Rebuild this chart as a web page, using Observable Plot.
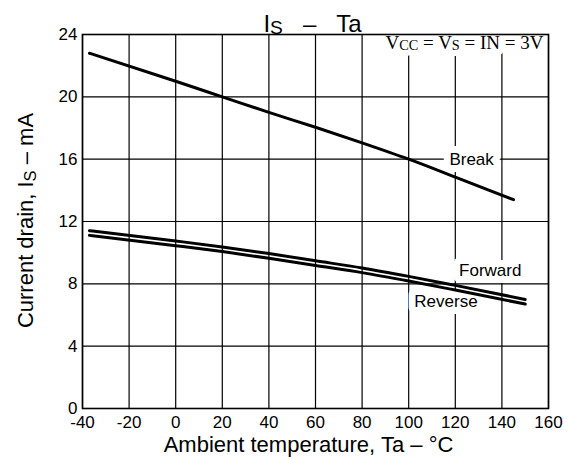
<!DOCTYPE html>
<html>
<head>
<meta charset="utf-8">
<script src="https://cdn.jsdelivr.net/npm/d3@7"></script>
<script src="https://cdn.jsdelivr.net/npm/@observablehq/plot@0.6"></script>
<style>
  html, body { margin: 0; padding: 0; background: #fff; }
</style>
</head>
<body>
<div id="chart"></div>
<script>
// ---- data ----
const pairTemps   = [-37, 0, 20, 40, 60, 80, 100, 120, 150];
const forwardMA   = [11.41, 10.75, 10.37, 9.94, 9.48, 9.02, 8.48, 7.90, 7.00];
const reverseMA   = [11.11, 10.45, 10.07, 9.64, 9.18, 8.72, 8.18, 7.60, 6.70];
const breakTemps  = [-37, 0, 20, 40, 60, 80, 100, 120, 145];
const breakMA     = [22.8, 21.0, 20.0, 19.0, 18.05, 17.05, 16.0, 14.85, 13.4];

const xTicks = [-40, -20, 0, 20, 40, 60, 80, 100, 120, 140, 160];
const yTicks = [0, 4, 8, 12, 16, 20, 24];

const curveNames  = ["Break", "Forward", "Reverse"];
const curveLabelX = [127, 135, 116];
const curveLabelY = [16.0, 8.86, 6.87];

const NB = "\u00a0";
const titleParts  = [["I", 0], ["S", 1], [NB + NB + NB + "–" + NB + NB + NB + "Ta", 0]];
const yLabelParts = [["Current drain, I", 0], ["S", 1], [" – mA", 0]];
const xLabelText  = "Ambient temperature, Ta – °C";
const condParts   = [["V", 0], ["CC", 1], [" = V", 0], ["S", 1], [" = IN = 3V", 0]];

// ---- build tables ----
const series = [];
pairTemps.forEach((t, i) => series.push({ curve: "Forward", t, ma: forwardMA[i] }));
pairTemps.forEach((t, i) => series.push({ curve: "Reverse", t, ma: reverseMA[i] }));
breakTemps.forEach((t, i) => series.push({ curve: "Break", t, ma: breakMA[i] }));
const labels = curveNames.map((name, i) => ({ name, x: curveLabelX[i], y: curveLabelY[i] }));
const join = parts => parts.map(p => p[0]).join("");

const SANS = "'Liberation Sans', Arial, Helvetica, sans-serif";
const SERIF = "'Liberation Serif', 'Times New Roman', serif";

const condOpts = {
  frameAnchor: "top-right", textAnchor: "end", lineAnchor: "bottom", dx: -5, dy: 14,
  fontFamily: SERIF, fontSize: 19
};

const chart = Plot.plot({
  width: 569,
  height: 459,
  marginLeft: 82,
  marginRight: 21,
  marginTop: 34,
  marginBottom: 51,
  style: { fontFamily: SANS, fontSize: "17px", color: "#000", background: "#fff", overflow: "visible" },
  x: { domain: [-40, 160], ticks: xTicks },
  y: { domain: [0, 24], ticks: yTicks },
  marks: [
    Plot.gridX(xTicks, { stroke: "#000", strokeOpacity: 1, strokeWidth: 1.2 }),
    Plot.gridY(yTicks, { stroke: "#000", strokeOpacity: 1, strokeWidth: 1.2 }),
    Plot.axisX(xTicks, { tickSize: 0, tickPadding: 7, label: null, tickFormat: d => String(d), fontSize: 17 }),
    Plot.axisY(yTicks, { tickSize: 0, tickPadding: 5, label: null, tickFormat: d => String(d), fontSize: 17 }),
    // curve labels with white halo that interrupts the grid
    Plot.text(labels, {
      x: "x", y: "y", text: "name", fontSize: 17, fill: "#000",
      stroke: "#fff", strokeWidth: 14, strokeLinejoin: "round", paintOrder: "stroke"
    }),
    // condition label (top right): halo first, then the text
    Plot.text([join(condParts)], { ...condOpts, fill: "#fff", stroke: "#fff", strokeWidth: 12, strokeLinejoin: "round" }),
    Plot.text([join(condParts)], { ...condOpts, fill: "#000" }),
    Plot.frame({ stroke: "#000", strokeWidth: 1.6 }),
    Plot.line(series, { x: "t", y: "ma", z: "curve", stroke: "#000", strokeWidth: 3, curve: "monotone-x" }),
    // title
    Plot.text([join(titleParts)], {
      frameAnchor: "top", textAnchor: "middle", lineAnchor: "bottom", dx: -3, dy: -3, fontSize: 24, fill: "#000"
    }),
    // axis labels
    Plot.text([xLabelText], {
      frameAnchor: "bottom", textAnchor: "middle", lineAnchor: "bottom", dx: -7, dy: 43, fontSize: 22, fill: "#000"
    }),
    Plot.text([join(yLabelParts)], {
      frameAnchor: "left", textAnchor: "middle", lineAnchor: "bottom", rotate: -90, dx: -50, dy: -1, fontSize: 22, fill: "#000"
    })
  ]
});

// turn subscript parts into real tspans
function richen(svg, parts, subScale, subShift) {
  const plain = join(parts);
  svg.querySelectorAll("text").forEach(t => {
    if (t.children.length === 0 && t.textContent === plain) {
      t.textContent = "";
      let shifted = false;
      parts.forEach(([s, sub]) => {
        const ts = document.createElementNS("http://www.w3.org/2000/svg", "tspan");
        ts.textContent = s;
        if (sub) {
          ts.setAttribute("font-size", subScale);
          ts.setAttribute("dy", subShift);
          shifted = true;
        } else if (shifted) {
          ts.setAttribute("dy", -subShift);
          shifted = false;
        }
        t.appendChild(ts);
      });
    }
  });
}
richen(chart, titleParts, "0.8em", 2);
richen(chart, yLabelParts, "0.75em", 3);
richen(chart, condParts, "0.75em", 1);

document.getElementById("chart").appendChild(chart);
</script>
</body>
</html>
